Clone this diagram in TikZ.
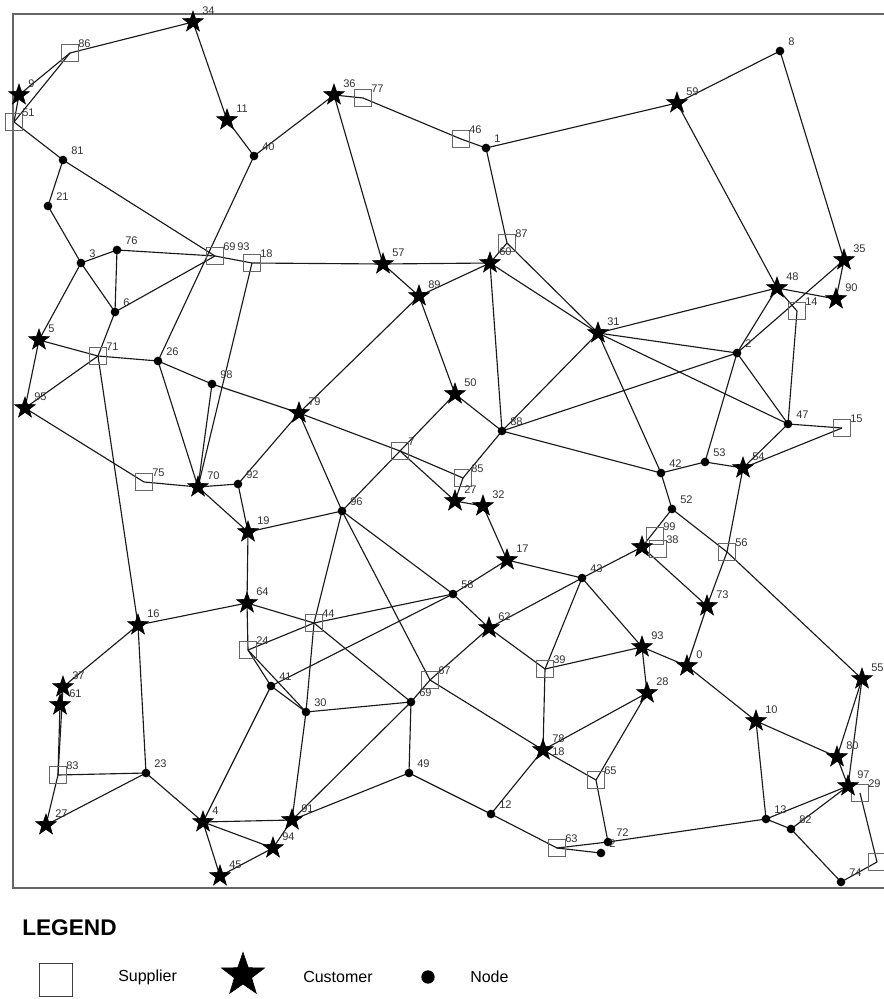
\documentclass[tikz,border=0pt]{standalone}
\usepackage{fontspec}
\setmainfont{Liberation Sans}
\usetikzlibrary{shapes.geometric}
\pgfdeclarelayer{bg}
\pgfsetlayers{bg,main}

\tikzset{
  supplier/.style={draw=black!60, line width=0.6pt, rectangle, minimum size=12.5pt, inner sep=0pt},
  customer/.style={star, star points=5, star point ratio=2.5, fill=black, draw=black, inner sep=0pt, minimum size=16.5pt},
  junction/.style={circle, fill=black, inner sep=0pt, minimum size=6.5pt},
  lbl/.style={font=\fontsize{8.3}{9}\selectfont, text=black!80, inner sep=0pt, anchor=south west},
  road/.style={black!90, line width=0.85pt},
  legtext/.style={font=\fontsize{12}{14}\selectfont, anchor=west, inner sep=0pt}
}

\begin{document}
\begin{tikzpicture}[x=0.75pt, y=-0.75pt]
\useasboundingbox (0,0) rectangle (884,999);
% frame of the map
\draw[black!60, line width=1.1pt] (13,14) rectangle (890,888);

% suppliers
\foreach \nm/\x/\y/\lab in {s86/70/53/86, s51/14/122/51, s77/363/98/77, s46/461/139/46,
  s87/507/243/87, s18/252/263/18, s69/215/256/69, s71/98/356/71, s14/797/311/14,
  s15/842/428/15, s7/400/451/7, s85/463/478/85, s75/144/482/75, s99/655/536/99,
  s38/658/549/38, s56/727/552/56, s44/314/623/44, s24/248/650/24, s39/545/669/39,
  s67/430/680/67, s83/58/775/83, s65/596/780/65, s29/860/793/29, s63/557/848/63,
  sx/877/862/{}}{
  \node[supplier] (\nm) at (\x,\y) {};
  \node[lbl] (l\nm) at (\x+8,\y-5) {\lab};
}

% customers
\foreach \nm/\x/\y/\lab in {c34/193/22/34, c9/19/95/9, c11/227/120/11, c36/334/95/36,
  c59/677/103/59, c60/490/263/60, c57/383/264/57, c89/419/296/89, c5/39/340/5,
  c95/25/408/95, c79/299/413/79, c50/455/394/50, c31/598/333/31, c48/777/288/48,
  c35/844/260/35, c90/836/299/90, c27/455/501/27, c32/483/506/32, c54/743/468/54,
  c70/198/487/70, c19/248/532/19, c38/642/547/{}, c17/507/560/17, c16/138/625/16,
  c64/247/603/64, c62/489/628/62, c73/707/606/73, c93/642/647/93, c0/687/666/0,
  c55/862/679/55, c37/63/687/37, c61/60/705/61, c28/647/693/28, c10/756/721/10,
  c78/543/750/78, c80/837/757/80, c97/848/786/97, c27b/46/825/27, c4/203/822/4,
  c91/292/820/91, c94/273/848/94, c45/220/876/45}{
  \node[customer] (\nm) at (\x,\y) {};
  \node[lbl] (l\nm) at (\x+9,\y-7) {\lab};
}

% nodes
\foreach \nm/\x/\y/\lab in {n40/254/156/40, n81/63/160/81, n21/48/206/21, n1/486/148/1,
  n8/780/51/8, n3/81/263/3, n76/117/250/76, n6/115/312/6, n26/158/361/26,
  n98/212/384/98, n88/502/431/88, n2/737/353/2, n47/788/424/47, n42/661/473/42,
  n53/705/462/53, n52/672/509/52, n92/238/484/92, n96/342/511/96, n43/582/578/43,
  n58/453/594/58, n41/271/686/41, n30/306/712/30, n69/411/702/69, n23/146/773/23,
  n49/409/773/49, n12/491/814/12, n13/766/819/13, n82/791/829/82, n72/608/842/72,
  n22/601/853/2, n74/841/882/74}{
  \node[junction] (\nm) at (\x,\y) {};
  \node[lbl] (l\nm) at (\x+8,\y-5) {\lab};
}
\node[lbl] (ls69b) at (237,251) {93};
\node[lbl] (lc78b) at (552,756) {18};

% roads
\begin{pgfonlayer}{bg}
\foreach \a/\b in {s86/c34, s86/c9, s86/s51, c9/s51, c34/c11, c11/n40, n40/c36, n40/n26,
  s51/n81, n81/s69, n81/n21, n21/n3, c36/s77, s77/s46, s46/n1, c36/c57, n1/c59, n1/s87,
  s87/c60, c59/n8, c59/c48, n8/c35, n3/n76, n3/n6, n3/c5, n76/s69, n76/n6, n6/s69,
  s69/s18, s18/c57, n6/s71, s71/c16, c5/s71, s71/n26, c95/s71, c5/c95, c95/s75,
  n26/n98, n98/c79, n26/c70, n98/c70, s18/c70, c79/n92, c57/c60, c57/c89, c89/c60,
  c89/c79, c89/c50, c50/n88, c50/s7, c60/n88, c60/c31, s87/c31, n88/c31, n88/n2,
  n88/n42, n88/s85, c79/s7, c31/c48, c48/c90, c48/s14, c48/n2, s14/n47, n2/c35,
  c35/c90, c31/n2, c31/n47, n2/n47, n2/n53, n47/s15, n47/c54, s15/c54, c31/n42,
  s75/c70, c70/n92, c70/c19, n92/c19, c19/c64, c19/n96, c64/c16, c64/s44, c64/s24,
  s24/s44, s44/n58, s24/n41, n41/n58, s24/n30, n41/n30, s44/n69, n96/s44, s44/n30,
  c79/n96, n96/s67, s7/n96, s7/c27, s7/s85, s85/c27, c27/c32, c32/c17, c17/n43,
  c17/n58, n58/c62, c62/n43, c62/s39, c62/s67, n43/s39, n43/c93, n43/c38, n96/n58,
  s39/c93, n42/n53, n53/c54, n42/n52, n52/s56, s56/c55, n52/c38, c54/s56, s56/c73,
  c73/c0, c38/c73, c93/c0, c0/c10, c93/c28, c28/s65, s65/n72, c78/s65, c78/c28,
  c78/s39, c78/n12, s67/c78, n72/n13, s63/n72, s63/n22, n13/c10, c10/c80, c80/c55,
  c55/c97, c80/c97, n13/c97, n82/c97, n13/n82, n82/n74, n74/sx, sx/s29, c16/c37,
  c37/s83, c61/s83, c37/c61, c16/n23, s83/n23, s83/c27b, c27b/n23, n23/c4, c4/n41,
  c4/c91, c4/c94, c4/c45, c45/c94, c94/c91, n30/c91, n69/c91, n49/c91, n69/n49,
  n49/n12, n12/s63, n30/n69, s67/n69}
  \draw[road] (\a.center) -- (\b.center);
\end{pgfonlayer}

% legend
\node[anchor=west, inner sep=0pt, font=\bfseries\fontsize{17}{20}\selectfont] (legend) at (22,928) {LEGEND};
\node[supplier, minimum size=25pt, draw=black!75] (legsup) at (56,980) {};
\node[legtext] (legsuptxt) at (118,977) {Supplier};
\node[customer, minimum size=34pt] (legcus) at (243,975) {};
\node[legtext] (legcustxt) at (303,977) {Customer};
\node[junction, minimum size=10pt] (legnode) at (428,977) {};
\node[legtext] (legnodetxt) at (470,977) {Node};
\end{tikzpicture}
\end{document}
